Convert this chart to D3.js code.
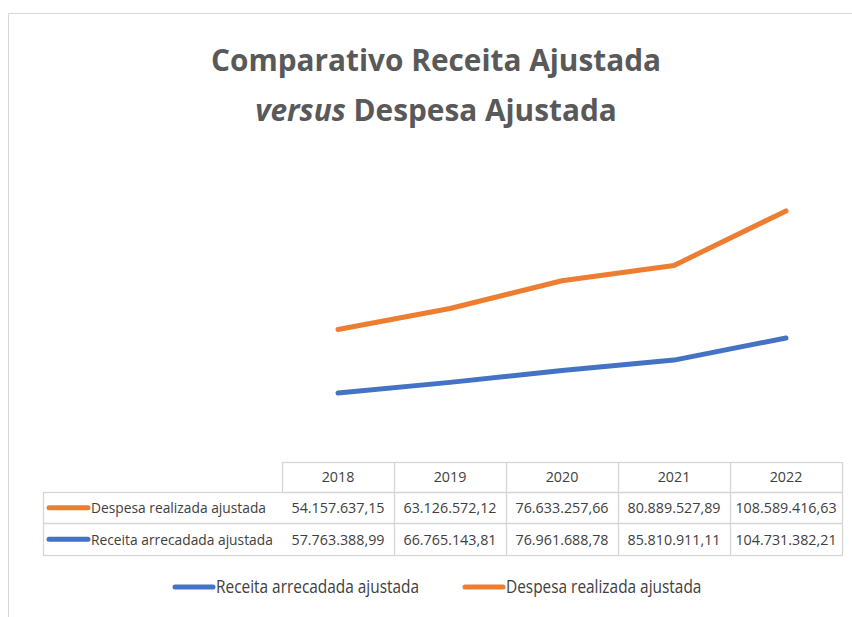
<!DOCTYPE html>
<html><head><meta charset="utf-8">
<script src="https://cdn.jsdelivr.net/npm/d3@7"></script>
<style>html,body{margin:0;padding:0;background:#fff;}svg{display:block;}</style>
</head><body>
<script>
const years = ["2018","2019","2020","2021","2022"];
const despesa = [54157637.15, 63126572.12, 76633257.66, 80889527.89, 108589416.63];
const receita = [57763388.99, 66765143.81, 76961688.78, 85810911.11, 104731382.21];
const despesaLabel = ["54.157.637,15","63.126.572,12","76.633.257,66","80.889.527,89","108.589.416,63"];
const receitaLabel = ["57.763.388,99","66.765.143,81","76.961.688,78","85.810.911,11","104.731.382,21"];
const seriesNames = ["Receita arrecadada ajustada","Despesa realizada ajustada"];
const colors = {"Receita arrecadada ajustada":"#4472C4","Despesa realizada ajustada":"#ED7D31"};

const W = 852, H = 617;
const FONT = "'Open Sans','Noto Sans',sans-serif";
const svg = d3.select("body").append("svg").attr("width", W).attr("height", H);

function condense(sel, f){
  sel.each(function(){ const L = this.getComputedTextLength();
    d3.select(this).attr("textLength", L*f).attr("lengthAdjust","spacingAndGlyphs"); });
}

// chart border
svg.append("path").attr("d", `M8.5,${H} V13.5 H${W}`).attr("fill","none").attr("stroke","#d9d9d9");

// title
const tg = svg.append("g").attr("text-anchor","middle").attr("fill","#595959")
  .attr("font-family",FONT).attr("font-weight","bold").attr("font-size",30);
const t1 = tg.append("text").attr("x",436).attr("y",71).text("Comparativo Receita Ajustada");
const t2 = tg.append("text").attr("x",436).attr("y",121);
t2.append("tspan").attr("font-style","italic").text("versus");
t2.append("tspan").text(" Despesa Ajustada");
const tf = 450 / t1.node().getComputedTextLength();
condense(tg.selectAll("text"), tf);

// scales
const x = d3.scaleBand().domain(years).range([282, 842]);
const y = d3.scaleLinear().domain([0, 250e6]).range([460.5, 168]);

// stacked series (Excel stacked line)
const table = years.map((yr,i)=>({year:yr, "Receita arrecadada ajustada":receita[i], "Despesa realizada ajustada":despesa[i]}));
const stack = d3.stack().keys(seriesNames)(table);
const line = d3.line().x((d,i)=>x(years[i]) + x.bandwidth()/2).y(d=>y(d[1]));
svg.selectAll("path.series").data(stack).join("path").attr("class","series")
  .attr("d", line).attr("fill","none").attr("stroke", d=>colors[d.key])
  .attr("stroke-width",5).attr("stroke-linecap","round").attr("stroke-linejoin","round");

// data table
const grid = "#d6d6d6";
const rowH = [462, 492, 523.5, 555];
const left = 43;
const g = svg.append("g").attr("stroke",grid).attr("stroke-width",1.3).attr("fill","none");
g.append("rect").attr("x",282.5).attr("y",rowH[0]+.5).attr("width",560).attr("height",rowH[1]-rowH[0]);
g.append("rect").attr("x",left+.5).attr("y",rowH[1]+.5).attr("width",842-left).attr("height",rowH[3]-rowH[1]);
g.append("line").attr("x1",left).attr("x2",842).attr("y1",rowH[2]).attr("y2",rowH[2]);
years.forEach((yr,i)=>{ if(i>0) g.append("line").attr("x1",x(yr)+.5).attr("x2",x(yr)+.5).attr("y1",rowH[0]).attr("y2",rowH[3]); });

const txt = svg.append("g").attr("font-family",FONT).attr("font-size",15).attr("fill","#404040");
years.forEach((yr,i)=>{
  const cx = x(yr)+x.bandwidth()/2;
  txt.append("text").attr("class","num").attr("x",cx).attr("y",(rowH[0]+rowH[1])/2).attr("dy","0.36em").attr("text-anchor","middle").text(yr);
  txt.append("text").attr("class","num").attr("x",cx).attr("y",(rowH[1]+rowH[2])/2).attr("dy","0.36em").attr("text-anchor","middle").text(despesaLabel[i]);
  txt.append("text").attr("class","num").attr("x",cx).attr("y",(rowH[2]+rowH[3])/2).attr("dy","0.36em").attr("text-anchor","middle").text(receitaLabel[i]);
});
const rowSeries = ["Despesa realizada ajustada","Receita arrecadada ajustada"];
rowSeries.forEach((s,j)=>{
  const cy = (rowH[j+1]+rowH[j+2])/2;
  svg.append("line").attr("x1",49).attr("x2",88).attr("y1",cy).attr("y2",cy)
    .attr("stroke",colors[s]).attr("stroke-width",5).attr("stroke-linecap","round");
  txt.append("text").attr("class","lab").attr("x",91).attr("y",cy).attr("dy","0.36em").text(s);
});
const numF = Math.min(1, 93 / txt.select("text.num:nth-child(2)").node().getComputedTextLength());
condense(txt.selectAll("text.num"), numF);
const labF = Math.min(1, 175 / txt.selectAll("text.lab").nodes()[0].getComputedTextLength());
condense(txt.selectAll("text.lab"), labF);

// legend
const legend = svg.append("g").attr("font-family",FONT).attr("font-size",18).attr("fill","#404040");
const legX = [175, 465];
seriesNames.forEach((s,i)=>{
  legend.append("line").attr("x1",legX[i]).attr("x2",legX[i]+38).attr("y1",587).attr("y2",587)
    .attr("stroke",colors[s]).attr("stroke-width",5).attr("stroke-linecap","round");
  legend.append("text").attr("x",legX[i]+41).attr("y",587).attr("dy","0.36em").text(s);
});
const legF = Math.min(1, 203 / legend.select("text").node().getComputedTextLength());
condense(legend.selectAll("text"), legF);
</script>
</body></html>
